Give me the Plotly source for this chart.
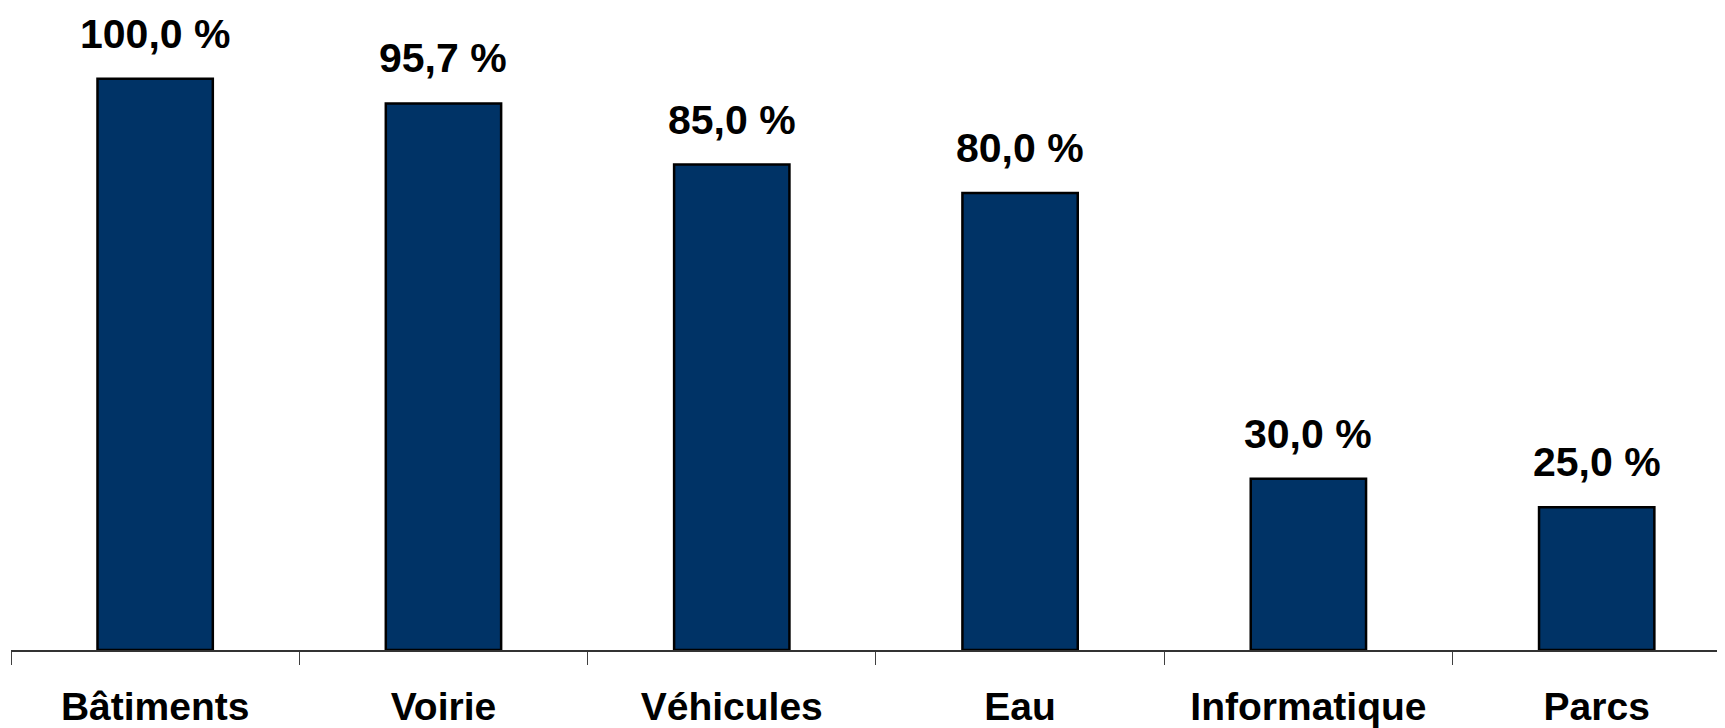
import plotly.graph_objects as go

categories = ["Bâtiments", "Voirie", "Véhicules", "Eau", "Informatique", "Parcs"]
values = [100.0, 95.7, 85.0, 80.0, 30.0, 25.0]

labels = [f"{v:.1f}".replace(".", ",") + " %" for v in values]

FONT = "Liberation Sans, Arial, sans-serif"

fig = go.Figure()
fig.add_trace(go.Bar(
    x=categories, y=values,
    marker=dict(color="#003366", line=dict(color="#000000", width=2.5)),
    hoverinfo="skip",
))

for c, v, t in zip(categories, values, labels):
    fig.add_annotation(
        x=c, y=v, text=t, showarrow=False, yanchor="bottom", yshift=20,
        font=dict(family=FONT, size=41, color="#000000", weight="bold"),
    )

fig.update_layout(
    width=1725, height=728,
    margin=dict(l=3, r=8, t=0, b=86, autoexpand=False),
    paper_bgcolor="white", plot_bgcolor="white",
    bargap=0.6, showlegend=False,
    xaxis=dict(
        type="category", range=[-0.5, 5.445], automargin=False,
        showline=True, linecolor="#333333", linewidth=1.5,
        ticks="outside", tickson="boundaries", ticklen=13, tickcolor="#404040", tickwidth=1,
        showgrid=False, zeroline=False,
        tickfont=dict(family=FONT, size=39, color="#000000", weight="bold"),
        ticklabelstandoff=21,
    ),
    yaxis=dict(
        range=[0, 112.4], visible=False, showgrid=False, zeroline=False, automargin=False,
    ),
)

fig.write_html("out.html")
